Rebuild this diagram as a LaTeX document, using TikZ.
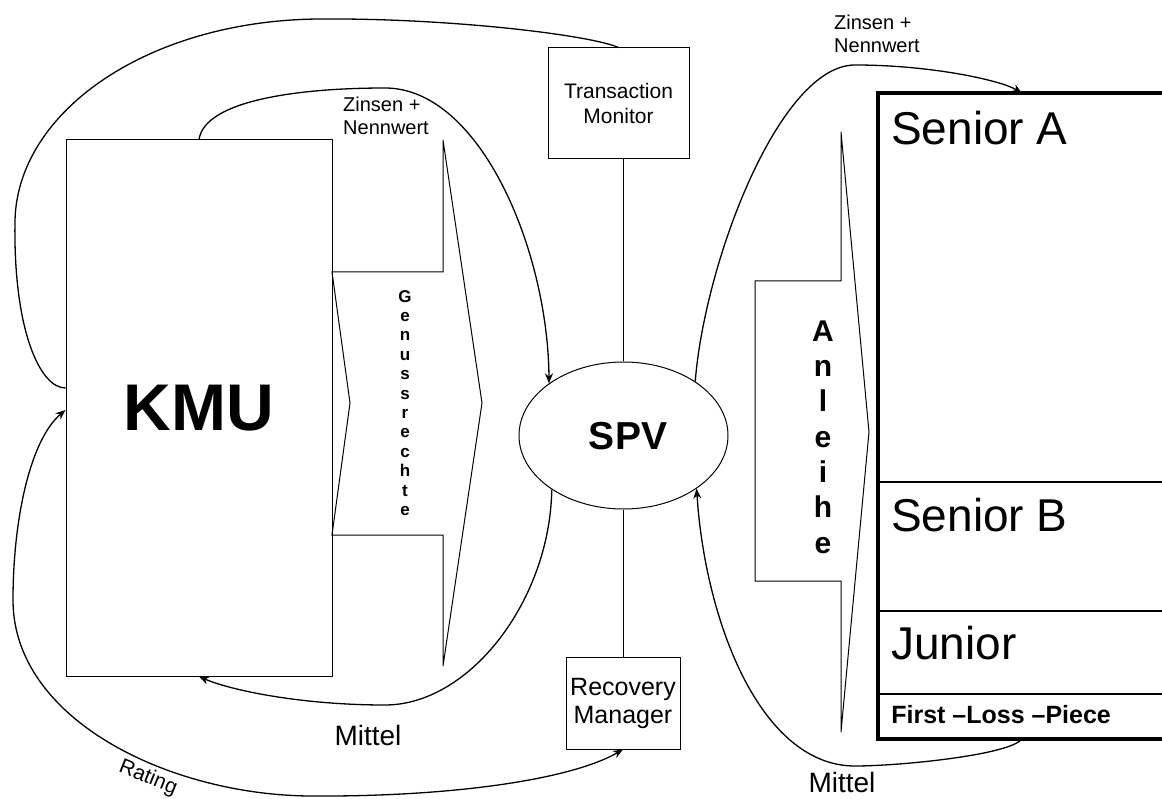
\documentclass[tikz,border=0pt]{standalone}
\usepackage{fontspec}
\setmainfont{Liberation Sans}
\usetikzlibrary{arrows.meta,shapes.geometric}

\tikzset{
  box/.style={draw, line width=1pt, inner sep=0pt},
  flow/.style={line width=1.3pt},
  arr/.style={flow, -{Stealth[length=10pt,width=8pt]}},
  dblarr/.style={flow, {Stealth[length=10pt,width=8pt]}-{Stealth[length=10pt,width=8pt]}},
  blockarrow/.style={draw, line width=1pt, line join=miter},
  tranche/.style={draw, line width=1.8pt, minimum width=286pt, inner sep=0pt},
  tlabel/.style={inner sep=0pt, anchor=base west, font=\fontsize{46}{46}\selectfont},
  small/.style={inner sep=0pt, align=left, anchor=north west, font=\fontsize{20}{23}\selectfont},
  mid/.style={inner sep=0pt, font=\fontsize{28}{28}\selectfont},
}

\begin{document}
\begin{tikzpicture}[x=1pt,y=-1pt]
\useasboundingbox (0,0) rectangle (1162,799);
% Knoten
\node[box, minimum width=266pt, minimum height=536pt, font=\fontsize{66}{66}\selectfont\bfseries] (kmu) at (199,408) {KMU};
\node[box, minimum width=141pt, minimum height=111pt, align=center, font=\fontsize{21}{25}\selectfont] (tm) at (618.5,103.5) {Transaction\\Monitor};
\node[box, ellipse, minimum width=209pt, minimum height=147pt, font=\fontsize{39}{39}\selectfont\bfseries, text depth=0pt, xshift=0pt] (spv) at (623.5,435.5) {\hspace*{9pt}SPV};
\node[box, minimum width=114pt, minimum height=92pt, align=center, font=\fontsize{25}{28}\selectfont] (rm) at (623,703) {Recovery\\Manager};
% Tranchen
\node[tranche, minimum height=388pt] (seniorA) at (1022,288) {};
\node[tranche, minimum height=129pt] (seniorB) at (1022,546.5) {};
\node[tranche, minimum height=83pt] (junior) at (1022,652.5) {};
\node[tranche, minimum height=44pt] (flp) at (1022,716) {};
\draw[line width=4pt] (seniorA.north west) rectangle (flp.south east);
\node[tlabel] at ([xshift=13pt,yshift=-51pt]seniorA.north west) {Senior A};
\node[tlabel] at ([xshift=13pt,yshift=-50pt]seniorB.north west) {Senior B};
\node[tlabel] at ([xshift=13pt,yshift=-49pt]junior.north west) {Junior};
\node[tlabel, font=\fontsize{25}{25}\selectfont\bfseries] at ([xshift=13pt,yshift=-30pt]flp.north west) {First –Loss –Piece};
% Pfeile (Genussrechte, Anleihe)
\draw[blockarrow] (332,272) -- (443,272) -- (443,140) -- (482,403) -- (443,666) -- (443,535) -- (332,535) -- (350,403) -- cycle;
\node[inner sep=0pt, align=center, font=\fontsize{17}{19.4}\selectfont\bfseries] (genuss) at (405,403) {G\\e\\n\\u\\s\\s\\r\\e\\c\\h\\t\\e};
\draw[blockarrow] (755,281) -- (841,281) -- (841,132) -- (869,432) -- (841,732) -- (841,581) -- (755,581) -- cycle;
\node[inner sep=0pt, align=center, font=\fontsize{30}{35.3}\selectfont\bfseries] (anleihe) at (823,437) {A\\n\\l\\e\\i\\h\\e};
% Verbindungen
\draw[line width=1pt] (spv.north) -- (spv.north |- tm.south);
\draw[line width=1pt] (spv.south) -- (spv.south |- rm.north);
\draw[flow] (tm.north) .. controls (590,35) and (450,18) .. (320,19)
  .. controls (150,20) and (18,110) .. (15,220)
  .. controls (13,330) and (40,388) .. ([yshift=20pt]kmu.west);
\draw[arr] (kmu.north) .. controls (205,100) and (300,88) .. (385,88)
  .. controls (480,88) and (548,250) .. (spv.145);
\draw[arr] (spv.217) .. controls (550,600) and (470,705) .. (385,705)
  .. controls (300,705) and (230,690) .. (kmu.south);
\draw[dblarr] ([yshift=-2pt]kmu.west) .. controls (30,440) and (13,520) .. (13,600)
  .. controls (13,720) and (170,795) .. (310,796)
  .. controls (450,797) and (570,780) .. (rm.south);
\draw[arr] (spv.37) .. controls (705,260) and (780,65) .. (855,65)
  .. controls (930,65) and (1000,80) .. (seniorA.north);
\draw[arr] (flp.south) .. controls (1010,755) and (900,766) .. (855,766)
  .. controls (760,766) and (705,620) .. (spv.324);
% Beschriftungen
\node[small] (zinsL) at (343,97) {Zinsen +\\Nennwert};
\node[small] (zinsR) at (834,15) {Zinsen +\\Nennwert};
\node[mid] (mittelL) at (368,735) {Mittel};
\node[mid] (mittelR) at (842,782) {Mittel};
\node[inner sep=0pt, rotate=-22, font=\fontsize{21}{21}\selectfont] (rating) at (148,778) {Rating};
\end{tikzpicture}
\end{document}
